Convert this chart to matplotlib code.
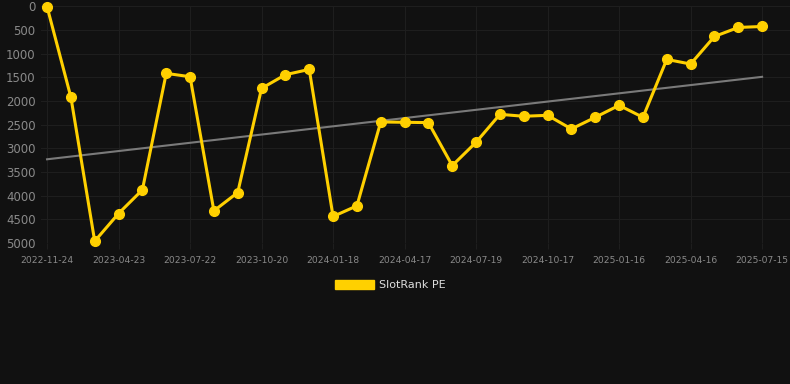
import matplotlib.pyplot as plt
import numpy as np
from matplotlib.patches import Patch

dates = ['2022-11-24', '2023-01-13', '2023-03-04', '2023-04-23', '2023-05-23',
         '2023-06-22', '2023-07-22', '2023-08-21', '2023-09-20', '2023-10-20',
         '2023-11-19', '2023-12-19', '2024-01-18', '2024-02-17', '2024-03-18',
         '2024-04-17', '2024-05-18', '2024-06-18', '2024-07-19', '2024-08-18',
         '2024-09-17', '2024-10-17', '2024-11-16', '2024-12-17', '2025-01-16',
         '2025-02-15', '2025-03-17', '2025-04-16', '2025-05-16', '2025-06-15',
         '2025-07-15']
rank = [10, 1920, 4960, 4376, 3877, 1419, 1489, 4320, 3933, 1735,
        1447, 1335, 4439, 4214, 2444, 2451, 2458, 3365, 2872, 2283,
        2324, 2304, 2592, 2346, 2093, 2346, 1124, 1222, 640, 450,
        429]
y_ticks = [0, 500, 1000, 1500, 2000, 2500, 3000, 3500, 4000, 4500, 5000]

bg = '#111111'
grid_col = '#1e1e1e'
text_col = '#8a8a8a'
yellow = '#ffd000'

x = np.arange(len(dates))
# linear trend through the ranks
slope, icpt = np.polyfit(x, rank, 1)

fig = plt.figure(figsize=(7.9, 3.84), dpi=100, facecolor=bg)
ax = fig.add_axes([0.052, 0.367, 0.948, 0.617], facecolor=bg)

ax.plot(x, slope * x + icpt, color='#7a7a7a', lw=1.5, zorder=2)
ax.plot(x, rank, color=yellow, lw=2.2, marker='o', ms=7, zorder=3, clip_on=False)

ax.set_xlim(-0.25, 31.17)
ax.set_ylim(5000, 0)
ax.set_yticks(y_ticks)
ax.set_yticklabels([str(v) for v in y_ticks])
ax.set_xticks(x[::3])
ax.set_xticklabels(dates[::3])

ax.grid(True, color=grid_col, lw=0.8)
ax.set_axisbelow(True)
for s in ax.spines.values():
    s.set_visible(False)
ax.tick_params(axis='y', length=0, labelsize=8.5, labelcolor=text_col, pad=4)
ax.tick_params(axis='x', length=4, color=grid_col, labelsize=6.6, labelcolor=text_col, pad=5)

handle = Patch(facecolor=yellow, edgecolor=yellow)
fig.legend([handle], ['SlotRank PE'], loc='center', bbox_to_anchor=(0.494, 0.258),
           frameon=False, fontsize=8, labelcolor='#dddddd',
           handlelength=3.5, handleheight=0.95, handletextpad=0.5)

fig.savefig('out.png', dpi=100, facecolor=bg)
